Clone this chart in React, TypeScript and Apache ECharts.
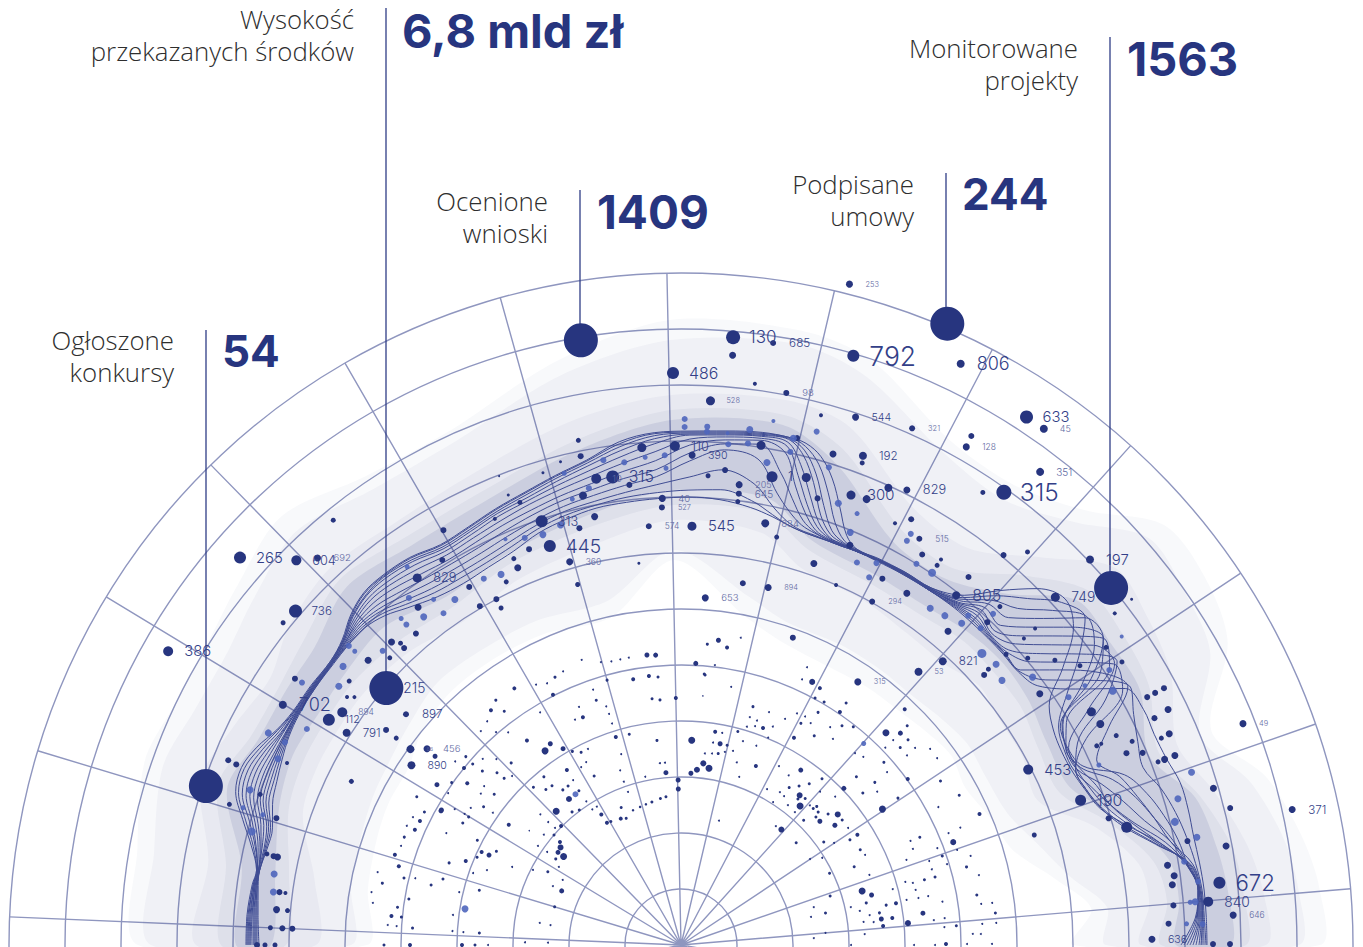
import React, { useEffect, useRef } from "react";
import * as echarts from "echarts";

const NAVY = "#27357f";
const BRIGHT = "#4f66bd";
const GRID = "#8f96bf";
const ROTATION = 4.8;

// [radius, angle in degrees, dot size, label, label size]
const LABELLED: [number, number, number, string, number][] = [
  [610,85.1,14,"130",16],[614,73.7,12,"792",25],[645,64.3,8,"806",17],[631,56.8,13,"633",14],[631,54.9,8,"45",8.5],
  [594,52.8,8,"351",9.5],[556,54.5,15,"315",23],[566,65.9,6,"321",7],[574,60.2,7,"128",8],[508,63.6,7,"829",12],
  [682,75.7,7,"253",7],[609,81.3,6,"685",11],[572,90.8,12,"486",15],[545,86.9,9,"528",7],[562,79.2,6,"98",9],
  [556,71.7,7,"544",10],[522,69.6,8,"192",11],[481,69.3,9,"300",14],[499,90.7,10,"110",12],[490,88.7,7,"390",10],
  [473,98.3,13,"315",15],[474,100.3,10,"10",9],[447,92.4,7,"40",9],[438,92.5,6,"527",7],[420,94.4,6,"574",8],
  [419,88.5,9,"545",14],[464,82.8,7,"205",8.5],[455,82.7,6,"645",9.5],[477,79,11,"1",12],[430,78.7,8,"884",9],
  [446,108.2,12,"313",12],[420,108.2,12,"445",18],[399,106.2,7,"360",8],[348,86,7,"653",9],[368,76.3,7,"894",7],
  [587,138.7,12,"265",14],[544,135,10,"604",12],[531,133.2,7,"692",9],[510,139.1,13,"736",11],[591,150.2,10,"386",14],
  [465,148.9,8,"702",17],[418,147.4,12,"112",10],[411,145.5,10,"894",8],[396,147.6,8,"791",11],[359,140,6,"897",11],
  [321,142.3,7,"456",9],[334,144.1,8,"88",5],[324,146.3,8,"890",10],[452,125.7,9,"829",12],[389,26.8,10,"453",14],
  [425,19.9,11,"190",15],[562,43.3,8,"197",14],[511,42.9,9,"749",13],[445,51.8,8,"805",15],[386,47.3,8,"821",11],
  [362,49,8,"53",7],[317,56.1,7,"315",7],[604,21.5,7,"49",7],[626,12.5,7,"371",11],[542,6.6,12,"672",21],
  [529,4.7,10,"840",13],[553,3.1,7,"646",8],[471,0.7,7,"636",10],[471,59.6,6,"515",8],[393,60.9,6,"294",7],
];

// The five callout points and the "215" label on one of them
const CALLOUTS: [number, number, string][] = [
  [501,161.5,""],[391,138.9,"215"],[613,99.4,""],[676,66.8,""],[559,39.7,""],
];

const NAVY_DOTS: [number, number, number][] = [
  [592,85,7],[566,82.5,4],[548,75.2,4],[515,69.4,5],[514,72.8,7],[484,75,9],[499,94.5,9],[463,96.4,6],[460,102.3,8],
  [477,84.7,6],[470,86.7,5],[447,82.7,5],[506,80.9,9],[520,77.1,6],[467,73,6],[483,67.4,8],[502,65.6,8],[419,76.8,5],
  [404,70.8,7],[434,67.1,7],[392,66.7,4],[418,61.2,6],[473,63.1,4],[367,80.3,6],[384,96.3,3],[375,106,5],[437,101.4,7],
  [429,103.7,6],[424,111,6],[421,113.4,5],[411,113.4,7],[403,115.7,5],[416,120.6,6],[392,118.1,6],[394,120.7,6],[382,118.1,5],
  [515,101.5,5],[499,101.6,6],[498,104,3],[492,106.3,3],[503,111.2,2],[471,110,5],[482,111,3],[465,113.6,4],
  [549,129.3,5],[478,119.8,6],[453,121.8,6],[428,127.9,7],[409,130.4,6],[406,133,6],[412,132.9,5],[419,133.7,7],[409,135.4,5],
  [423,137.7,7],[424,141.5,5],[410,142.8,4],[416,143.4,4],[512,141,5],[469,145.4,6],[489,157.8,6],[480,157.9,6],[368,153.6,5],
  [473,162.7,5],[447,160.3,5],[424,162.6,6],[424,167.6,5],[413,167.7,7],[417,167.7,6],[405,172.5,6],[399,172.5,4],[406,175,7],
  [395,175,5],[411,177.6,5],[399,177.6,6],[389,177.6,6],[406,180,5],[416,180,5],[424,180,6],[434,155.2,4],[365,143.9,6],[352,144,5],
  [310,142.5,5],[292,146.7,5],[275,150.8,5],[459,58.3,6],[465,56,4],[458,56,5],[484,61.6,6],[467,52,6],[506,50.4,6],[524,48.6,5],
  [544,56.3,5],[586,60.3,6],[418,57.3,7],[412,49.6,7],[445,46.5,6],[465,46.7,5],[413,41.9,5],[406,41.7,6],[438,35,7],[472,29.6,9],
  [474,27.8,8],[483,25.7,5],[495,24.3,5],[528,28,6],[537,28,6],[547,28,6],[541,25.8,7],[525,25.6,6],[532,23.4,7],[523,23.3,5],
  [529,21,7],[518,21,7],[511,21,5],[500,22.6,6],[485,23.3,6],[461,25.6,5],[466,25.6,4],[555,16.4,7],[566,14,6],[517,11.6,6],
  [554,10.3,7],[461,14.8,11],[446,16.5,6],[493,9.3,7],[498,8,7],[495,7,7],[494,4.6,6],[488,2.5,6],[532,0.1,6],[549,0.1,6],
  [519,35,5],[524,32.7,5],[487,35,5],[470,37.3,5],[450,39.6,5],[436,41.8,5],[460,41.8,4],[475,41.8,4],[546,37.4,4],[568,37.5,3],
];

const BRIGHT_DOTS: [number, number, number][] = [
  [526,89.6,6],[518,89.6,6],[519,87.1,6],[514,87.1,6],[514,84.8,4],[503,84.6,6],[520,82.4,7],[506,82.4,6],[532,80,4],[519,77.5,7],
  [505,77.5,6],[490,79.9,7],[531,75.2,6],[500,72.8,6],[469,70.4,7],[466,67.8,5],[446,67.7,7],[421,65.3,6],[413,62.9,6],[429,62.9,6],
  [491,99.1,6],[486,96.7,6],[489,94.2,5],[490,91.9,6],[477,91.8,5],[466,101.4,6],[459,103.7,5],[437,106,7],[433,108.6,7],[436,111,6],
  [442,113.4,4],[486,103.9,5],[412,115.9,7],[416,118.3,6],[413,123.2,7],[461,145.3,6],[464,152.8,7],[432,150,6],[458,160.2,7],
  [459,162.6,5],[438,162.7,5],[444,165.2,8],[413,170.1,7],[411,172.6,7],[445,152.9,6],[444,155.2,7],[438,140.5,7],[429,142.9,7],
  [419,135.4,6],[439,138,5],[441,128.1,6],[425,125.6,5],[430,130.6,5],[417,128.1,7],[422,130.6,6],[408,125.6,6],[467,125.9,5],[447,138,6],
  [449,56,8],[448,58.3,6],[463,60.8,6],[471,60.8,6],[419,53.5,7],[422,51.3,7],[427,48.9,7],[437,48.9,6],[436,46.6,6],[455,46.7,6],
  [419,44.1,9],[422,41.7,7],[416,39.5,7],[442,37.3,7],[460,32.6,6],[480,32.7,5],[501,30.5,8],[539,18.7,7],[518,16.4,7],[509,14,8],
  [527,11.8,7],[510,9.4,6],[521,7,6],[516,4.8,7],[522,2.3,6],[506,2.4,5],[511,4.8,5],[455,23.3,5],[538,35,4],[509,32.7,6],
  [219,170.5,7],[184,125,6],[272,47.8,5],
];

const INNER_LARGE: [number, number, number][] = [
  [205,87,7],[179,81,7],[176,84.8,6],[183,83,6],[172,86.7,5],[165,91,5],[156,91,5],[173,95,5],[237,125,7],[240,123,5],[256,127,4],
  [229,121,5],[184,127.5,6],[183,133,7],[159,139.6,4],[155,141,6],[147,143,7],[154,143,5],[131,155.6,5],[183,49.4,7],[191,51.6,6],
  [212,55.6,5],[153,49,6],[204,39.8,6],[195,37.9,5],[186,41.7,5],[243,34,7],[295,46,7],[305,44,5],[189,16.6,7],[197,14.7,5],
  [202,7.4,5],[228,5.5,6],[291,20.7,6],[326,23.7,4],[244,7.5,5],[327,70,6],[294,63.5,6],[307,83,5],[291,95,5],[292,96.7,5],
  [306,123,4],[275,150.6,5],[290,156.6,4],[300,162.5,4],[293,164.4,4],[291,174.3,4],
];

// Small dots, left half of the inner field
const INNER_LEFT: [number, number, number][] = [
  [149,95.8,3],[148,98,3],[146,101.5,3],[145,104,2.5],[144,106.5,2.5],[143,109.6,2.5],
  [296,115.2,3],[298,113.3,2],[298,119.1,2],[294,117.1,2],[281,117.1,4],[307,127.1,3],[302,129,4],[293,127.1,3],[296,130.9,2],
  [293,133.1,2],[282,131,2],[274,129.1,2],[272,121.2,2],[259,113.2,2],[248,113.3,4],[249,115.2,2],[270,109,2],[259,109.1,3],
  [250,107.4,2],[242,107.3,2],[232,107.3,2],[218,107.4,4],[217,103.8,3],[270,100.2,4],[271,96.8,4],[269,94.9,3],[248,96.7,3],
  [246,94.9,3],[206,96.7,3],[183,96.6,2],[183,95,2],[172,102,2],[173,109.3,2],[162,109.1,2],[185,109.2,2],[200,107.4,2],[190,117.2,3],
  [204,119.3,2],[206,117.4,2],[222,119.3,3],[217,117.4,3],[217,115.4,2],[209,123.1,4],[217,129.2,3],[205,129,3],[216,133.1,3],
  [206,131,3],[195,127.3,3],[195,125.4,3],[197,123.2,2],[185,123.5,3],[172,129.3,3],[169,127,3],[172,123.4,2],[162,123.2,2],
  [162,121.3,2],[153,121.4,4],[143,121.2,4],[142,119.6,3],[140,115.5,4],[150,113.5,3],[138,113.4,3],[169,135.2,4],[172,137.1,2],
  [168,139.1,3],[176,141.2,2],[181,137.2,2],[192,137.1,2],[152,145.5,3],[163,145.2,2],[174,145.3,2],[145,147.4,2],[152,151.2,3],
  [166,153.1,2],[135,151.2,2],[141,155.3,2],[132,163.2,3],[132,171.3,2],[143,171.1,2],[210,145.1,4],[190,143,1.5],[186,155.2,2],
  [207,153.1,3],[212,154.9,5],[220,155,4],[229,152.8,3],[222,156.7,3],[231,158.7,4],[246,160.5,3],[220,160.9,2],[208,158.9,2],
  [247,164.5,3],[228,166.6,2],[209,164.8,3],[230,172.5,2],[202,176.6,3],[218,176.6,2],[229,176.5,2],[219,180,4],[206,180,3],[193,180,2],
  [156,179,2],[133,179,2],[250,150.8,3],[248,148.9,3],[260,154.5,2],[253,148.8,2],[241,145,3],[230,144.9,2],[251,146.9,2],[264,149,2],
  [240,141.1,3],[251,142.9,2],[268,142.9,4],[281,144.7,3],[280,140.8,4],[276,139,3],[264,138.8,3],[252,136.9,3],[243,136.7,3],[249,133,3],
  [272,136.8,2],[262,134.8,2],[239,135,2],[286,138.8,3],[291,140.9,2],[253,141.1,2],[278,146.9,2],[289,154.6,4],[303,150.7,3],[289,152.6,3],
  [297,154.5,2],[299,156.5,2],[297,158.7,3],[297,160.5,2],[305,168.3,3],[285,166.4,3],[274,165.9,2],[257,166.5,3],[276,170.4,3],[286,172.4,3],
  [281,174.3,3],[311,172.2,2],[314,170.3,2],[312,166.5,2],[285,176.2,2],[271,180,4],[297,180,3],[269,176.4,3],[294,176.1,2],
  [302,85,3],[313,79,2],[301,81.2,4],[282,87,5],[272,85.1,3],[247,91.2,4],[275,105.6,3],[302,109.2,2],[294,105.8,2],[292,103.8,2],[292,102,2],[292,100.3,2],
];

// Small dots, right half of the inner field
const INNER_RIGHT: [number, number, number][] = [
  [292,61.6,4],[305,65.6,2],[292,65.5,2],[281,61.5,3],[282,59.5,3],[293,55.7,3],[282,55.7,4],[270,59.5,3],[259,63.4,2],[260,61.5,2],
  [257,59.7,2],[252,61.6,3],[264,55.6,2],[272,53.7,3],[278,51.7,3],[236,61.4,4],[248,57.5,3],[256,53.6,2],[315,44.1,3],[325,46.5,4],
  [306,42.1,3],[295,44,2],[295,42,3],[284,44,2],[317,38.2,2],[306,40.1,2],[295,40,2],[317,36.1,2],[273,42,3],[262,45.9,2],[259,47.8,2],
  [243,43.8,3],[269,40,2],[281,36.2,4],[253,40,3],[226,43.9,5],[237,39.9,3],[249,38,2],[262,34.1,3],[307,32.3,3],[316,28.3,3],[292,28.2,2],
  [218,49.7,3],[201,57.6,2],[206,51.5,3],[198,53.4,3],[191,55.5,3],[207,47.8,2],[214,43.9,2],[197,41.7,3],[194,45.6,3],[190,45.9,3],
  [190,47.3,2],[192,49.7,3],[187,51.3,3],[191,44.1,3],[186,43.5,3],[175,45.5,3],[204,37.8,3],[204,35,2],[208,32,4],[199,31.9,3],[176,35.8,3],
  [184,33.7,2],[154,41.6,3],[203,28,3],[205,26.1,2],[155,33.7,2],[166,31.7,2],[190,24.3,3],[165,25.8,3],[201,20.4,2],[262,24.3,3],[252,24.4,2],
  [251,22.5,2],[241,20.7,2],[290,22.7,2],[303,22.8,2],[274,20.7,2],[276,18.8,3],[292,19,2],[303,17.1,2],[262,18.7,2],[278,16.9,2],[262,16.8,2],
  [296,15.3,3],[306,13.2,2],[263,15,3],[252,15,3],[240,15,2],[233,15.7,2],[241,13.2,2],[252,11.2,2],[242,11.2,2],[230,11.3,2],[300,9.6,3],
  [265,9.4,2],[303,7.8,2],[314,7.7,2],[316,5.8,3],[254,5.6,2],[265,5.8,2],[276,4,3],[264,3.9,2],[302,4,2],[316,4,2],[300,2.1,2],[292,2.2,2],
  [311,0.2,2],[265,0.2,4],[254,0,2],[233,0,2],[286,0.2,2],[203,5.4,4],[213,7.3,4],[219,11,4],[209,11,3],[201,9.2,3],[191,9,2],[182,10.8,2],
  [190,12.8,3],[174,12.6,2],[184,7.2,2],[194,6.8,2],[157,18.2,3],[148,12.5,3],[138,15.9,2],[133,12.2,2],[145,4.8,2],[133,3,2],[170,0,2],[184,3.4,2],
  [219,14.8,2],[216,80.9,4],[216,79,2],[205,79,5],[205,77,3],[205,81,2],[195,79,3],[193,82.9,2],[194,80.8,2],[198,77.2,2],[201,75,2],[282,83.1,2],
  [271,84.9,3],[263,79,2],[250,85,1.5],[249,73.2,3],[249,69.3,2],[238,73.2,2],[237,71.3,2],[232,69.3,4],[228,73.2,2],[231,71.3,2],[237,67.2,2],
  [249,65.3,2],[221,75.1,3],[225,67.2,2],[213,73.1,2],[213,69.3,2],[194,67.3,4],[178,70.9,2],[191,73,2],[130,73,2],[152,51.4,2],[204,61.3,2],
  [178,61.1,2],[170,57.2,2],[182,57.1,2],[181,55.3,2],[176,52.6,2],[175,49.4,2],[370,17.3,5],
];

const LINE_ANGLE_RADII: number[][] = [
  [180,435,434,433,432,431,430,428,427,426,425,424,422],
  [176,435,434,433,432,431,430,429,428,427,426,425,424],
  [172,433,432,432,431,431,430,430,429,429,428,428,427],
  [170,431,431,430,430,430,429,429,429,429,428,428,428],
  [167,441,439,437,436,434,432,431,430,428,427,426,425],
  [164,456,453,449,446,443,440,437,434,431,429,427,425],
  [161,471,468,464,460,456,452,448,445,442,439,436,432],
  [158,474,471,467,463,459,455,451,448,445,442,439,436],
  [155,468,465,462,459,456,453,450,448,446,444,442,440],
  [152,458,457,455,453,452,451,449,448,447,446,445,444],
  [149,453,452,452,451,450,450,449,449,448,447,447,446],
  [145,452,451,451,450,450,449,449,449,448,448,447,447],
  [141,451,451,450,450,450,449,449,449,448,448,448,447],
  [138,456,455,455,454,454,453,452,452,451,450,449,448],
  [135,467,466,465,464,462,460,458,456,454,452,450,448],
  [132,474,473,471,470,467,464,460,456,452,449,446,443],
  [129,475,474,473,471,467,463,458,452,447,442,438,434],
  [125,473,472,470,468,464,459,453,447,441,435,430,425],
  [121,467,466,464,462,459,455,450,445,439,433,428,422],
  [117,469,468,466,464,461,457,452,446,440,434,429,424],
  [113,474,473,471,469,466,461,456,450,444,438,433,428],
  [109,479,478,476,473,470,466,460,455,449,444,440,436],
  [105,486,485,483,480,476,471,465,460,454,449,445,441],
  [101,494,493,491,488,483,477,470,464,458,452,448,445],
  [97,507,505,502,498,492,485,477,470,463,456,451,446],
  [93,513,512,510,507,502,494,485,476,469,461,453,447],
  [89,514,513,512,511,510,506,500,492,484,468,455,448],
  [85,516,515,514,513,512,510,507,503,497,477,457,447],
  [81,519,518,517,516,515,513,511,507,492,467,450,443],
  [78,519,519,518,517,514,510,503,482,462,447,440,438],
  [76,517,514,510,505,495,484,473,460,447,437,434,434],
  [74,508,500,490,481,468,458,450,442,437,432,431,431],
  [72,490,476,462,452,445,440,436,434,433,431,430,430],
  [70,465,450,441,437,434,433,432,431,431,430,430,430],
  [68,442,436,434,433,432,432,431,431,431,430,430,430],
  [66,433,433,432,432,432,431,431,431,431,431,431,431],
  [63,434,433,433,433,433,432,432,432,432,432,432,431],
  [59,435,435,434,434,434,433,433,433,433,433,432,432],
  [55,436,436,435,435,435,434,434,434,433,433,433,433],
  [51,450,447,445,443,441,440,439,438,437,436,435,434],
  [48,477,470,464,459,454,450,446,443,440,438,436,434],
  [45,504,490,476,463,452,444,440,438,437,436,435,434],
  [42,517,512,500,488,475,462,450,441,438,436,435,434],
  [39,505,520,522,520,505,491,477,463,450,437,435,434],
  [36,472,492,511,522,522,522,510,495,481,468,451,441],
  [33,439,460,478,489,500,511,517,520,516,500,486,470],
  [30,430,436,441,440,438,445,470,490,510,516,518,513],
  [27,427,430,432,433,434,432,435,445,455,480,508,519],
  [24,428,430,433,437,440,436,433,432,432,455,500,518],
  [21,433,440,450,462,475,445,438,434,434,470,495,520],
  [18,441,452,465,478,490,452,447,443,442,480,505,525],
  [15,462,470,480,490,500,468,464,460,458,490,512,525],
  [12,490,495,500,503,508,490,488,486,485,500,517,524],
  [9,512,512,512,513,513,513,514,515,516,518,521,525],
  [6,520,520,520,520,521,521,521,522,522,523,524,526],
  [3,515,516,517,518,519,520,521,522,522,523,524,526],
  [0,500,503,506,509,512,515,518,520,521,523,525,526],
];

// [angle, outer/inner radius of layer 1, of layer 2, ... of layer 5]
const BAND_RADII: number[][] = [
  [180,543,314,530,330,485,365,460,395,445,410],
  [170,552,318,535,335,480,372,462,398,446,412],
  [161,567,322,548,338,508,400,490,415,480,425],
  [154,560,325,540,342,498,405,478,420,470,432],
  [147,562,325,540,345,490,405,478,420,470,430],
  [141,571,335,550,350,505,405,485,420,472,432],
  [133,586,342,565,358,515,400,500,415,490,435],
  [124,565,342,550,356,510,390,492,408,482,420],
  [114,564,340,552,355,515,400,495,418,485,428],
  [102,597,335,582,352,535,410,515,428,505,440],
  [91,625,385,605,395,550,425,535,440,525,455],
  [79,626,335,612,355,555,420,540,440,530,455],
  [72,615,320,598,340,545,395,522,415,505,425],
  [62,572,315,558,340,495,390,470,408,455,418],
  [54,568,318,550,340,490,385,465,408,452,418],
  [47,594,320,578,340,530,385,505,415,480,425],
  [41,640,325,620,345,575,395,540,415,525,428],
  [35,640,330,615,350,570,390,540,415,525,425],
  [29,625,325,605,348,560,390,535,408,525,418],
  [22,572,335,560,352,535,385,515,408,505,420],
  [16,609,345,592,370,555,430,540,445,535,460],
  [10,630,380,612,395,575,465,560,480,545,495],
  [5,641,412,620,428,585,470,565,488,550,500],
  [0,639,392,618,425,585,460,565,480,550,495],
];
const BAND_ALPHA = [0.03, 0.04, 0.04, 0.05, 0.1];

const CALLOUT_TEXTS = [
  { value: "6,8 mld zł", valueSize: 47, lines: ["Wysokość", "przekazanych środków"], rule: [386, 8, 688], textRight: 354, y1: 19, y2: 51, valueX: 402, valueY: 30 },
  { value: "1563", valueSize: 47, lines: ["Monitorowane", "projekty"], rule: [1110, 37, 588], textRight: 1078, y1: 48, y2: 80, valueX: 1127, valueY: 58 },
  { value: "244", valueSize: 44, lines: ["Podpisane", "umowy"], rule: [946, 173, 323], textRight: 914, y1: 184, y2: 216, valueX: 962, valueY: 194 },
  { value: "1409", valueSize: 46, lines: ["Ocenione", "wnioski"], rule: [580, 190, 340], textRight: 548, y1: 201, y2: 233, valueX: 597, valueY: 212 },
  { value: "54", valueSize: 44, lines: ["Ogłoszone", "konkursy"], rule: [206, 330, 786], textRight: 174, y1: 340, y2: 372, valueX: 222, valueY: 351 },
];

const toAxis = (a: number) => (a - ROTATION + 360) % 360;
const plain = (rows: [number, number, number][]) => rows.map(([r, a, d]) => [r, toAxis(a), d]);

function buildOption(): any {
  const lineCount = LINE_ANGLE_RADII[0].length - 1;
  const lineSeries = Array.from({ length: lineCount }, (_, i) => ({
    type: "line",
    coordinateSystem: "polar",
    data: LINE_ANGLE_RADII.map((row) => [row[i + 1], toAxis(row[0])]),
    smooth: 0.35,
    showSymbol: false,
    clip: false,
    silent: true,
    z: 4,
    lineStyle: { color: "#3f4c93", width: 1 },
  }));

  const bandSeries = {
    type: "custom",
    coordinateSystem: "polar",
    clip: false,
    silent: true,
    z: 1,
    data: BAND_ALPHA.map((_, i) => [i, 0]),
    renderItem: (params: any, api: any) => {
      const k = params.dataIndex;
      const outer = BAND_RADII.map((row) => api.coord([row[1 + k * 2], toAxis(row[0])]));
      const inner = BAND_RADII.map((row) => api.coord([row[2 + k * 2], toAxis(row[0])])).reverse();
      return {
        type: "polygon",
        shape: { points: outer.concat(inner), smooth: 0.3 },
        style: { fill: `rgba(39,53,127,${BAND_ALPHA[k]})`, stroke: "none" },
      };
    },
  };

  const dots = (rows: [number, number, number][], color: string, z: number, opacity = 1) => ({
    type: "scatter",
    coordinateSystem: "polar",
    data: plain(rows),
    symbolSize: (v: number[]) => v[2],
    itemStyle: { color, opacity },
    silent: true,
    clip: false,
    z,
  });

  const labelStyle = (fs: number) => ({
    fontFamily: "Inter",
    fontWeight: 300,
    fontSize: fs * 1.06,
    color: fs < 10 ? "#5d68a2" : "#333f88",
  });

  const labelled = {
    type: "scatter",
    coordinateSystem: "polar",
    silent: true,
    clip: false,
    z: 7,
    itemStyle: { color: NAVY, opacity: 1 },
    data: LABELLED.map(([r, a, d, text, fs]) => ({
      value: [r, toAxis(a)],
      symbolSize: d,
      label: { show: true, position: "right", distance: 16 - d / 2, formatter: text, ...labelStyle(fs) },
    })),
  };

  const callouts = {
    type: "scatter",
    coordinateSystem: "polar",
    silent: true,
    clip: false,
    z: 8,
    itemStyle: { color: NAVY, opacity: 1 },
    data: CALLOUTS.map(([r, a, text]) => ({
      value: [r, toAxis(a)],
      symbolSize: 34,
      label: { show: !!text, position: "right", distance: 0, formatter: text, ...labelStyle(13) },
    })),
  };

  const graphics: any[] = [];
  CALLOUT_TEXTS.forEach((c) => {
    graphics.push({
      type: "line",
      z: 6,
      shape: { x1: c.rule[0], y1: c.rule[1], x2: c.rule[0], y2: c.rule[2] },
      style: { stroke: "#2f3d86", lineWidth: 1.3 },
    });
    c.lines.forEach((t, i) =>
      graphics.push({
        type: "text",
        x: c.textRight,
        y: i === 0 ? c.y1 : c.y2,
        style: {
          text: t,
          textAlign: "right",
          textVerticalAlign: "middle",
          fontFamily: "Open Sans",
          fontWeight: 300,
          fontSize: 25.8,
          fill: "#2e2e2e",
        },
      })
    );
    graphics.push({
      type: "text",
      x: c.valueX,
      y: c.valueY,
      style: {
        text: c.value,
        textAlign: "left",
        textVerticalAlign: "middle",
        fontFamily: "Inter",
        fontWeight: 700,
        fontSize: c.valueSize,
        fill: NAVY,
      },
    });
  });

  return {
    animation: false,
    backgroundColor: "#ffffff",
    polar: { center: [681, 945], radius: 672 },
    angleAxis: {
      type: "value",
      min: 0,
      max: 360,
      interval: 14.4,
      startAngle: ROTATION,
      clockwise: false,
      axisLine: { show: false },
      axisTick: { show: false },
      axisLabel: { show: false },
      splitLine: { show: true, lineStyle: { color: GRID, width: 1.4 } },
    },
    radiusAxis: {
      type: "value",
      min: 0,
      max: 672,
      interval: 56,
      axisLine: { show: false },
      axisTick: { show: false },
      axisLabel: { show: false },
      splitLine: { show: true, lineStyle: { color: GRID, width: 1.4 } },
    },
    graphic: graphics,
    series: [
      bandSeries,
      ...lineSeries,
      dots(INNER_LEFT, NAVY, 5),
      dots(INNER_RIGHT, NAVY, 5),
      dots(INNER_LARGE, NAVY, 5),
      dots(NAVY_DOTS, NAVY, 5),
      dots(BRIGHT_DOTS, BRIGHT, 6, 0.9),
      labelled,
      callouts,
    ],
  };
}

export default function App() {
  const ref = useRef<HTMLDivElement>(null);
  useEffect(() => {
    document.body.style.margin = "0";
    const chart = echarts.init(ref.current!, undefined, { renderer: "svg" });
    chart.setOption(buildOption());
    return () => chart.dispose();
  }, []);
  return <div ref={ref} style={{ width: 1363, height: 947, overflow: "hidden" }} />;
}
